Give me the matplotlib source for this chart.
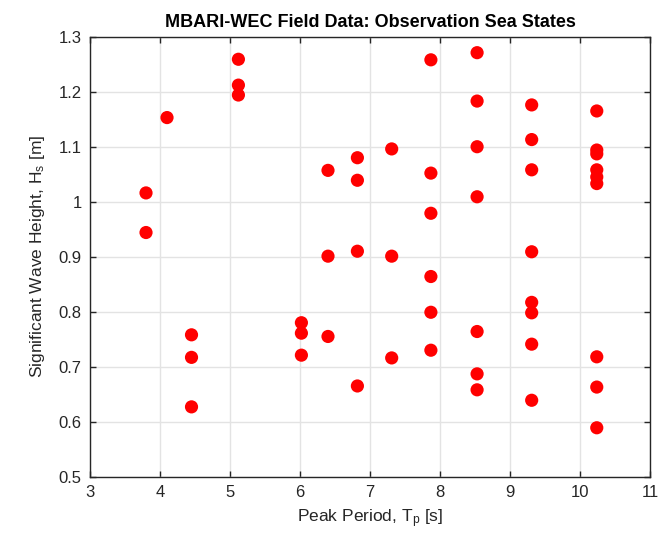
import matplotlib
matplotlib.use("Agg")
import matplotlib.pyplot as plt

plt.rcParams['font.family'] = ['Liberation Sans', 'DejaVu Sans']
plt.rcParams['mathtext.fontset'] = 'custom'
plt.rcParams['mathtext.rm'] = 'Liberation Sans'
plt.rcParams['mathtext.it'] = 'Liberation Sans'

# Peak period (s) and significant wave height (m) for each observation
tp = [3.80, 3.80,
      4.10,
      4.45, 4.45, 4.45,
      5.12, 5.12, 5.12,
      6.02, 6.02, 6.02,
      6.40, 6.40, 6.40,
      6.82, 6.82, 6.82, 6.82,
      7.31, 7.31, 7.31,
      7.87, 7.87, 7.87, 7.87, 7.87, 7.87,
      8.53, 8.53, 8.53, 8.53, 8.53, 8.53, 8.53,
      9.31, 9.31, 9.31, 9.31, 9.31, 9.31, 9.31, 9.31,
      10.24, 10.24, 10.24, 10.24, 10.24, 10.24, 10.24, 10.24, 10.24]
hs = [1.016, 0.944,
      1.153,
      0.758, 0.717, 0.627,
      1.259, 1.212, 1.194,
      0.780, 0.761, 0.721,
      1.057, 0.901, 0.755,
      1.080, 1.039, 0.910, 0.665,
      1.096, 0.901, 0.716,
      1.258, 1.052, 0.979, 0.864, 0.799, 0.730,
      1.271, 1.183, 1.100, 1.009, 0.764, 0.687, 0.658,
      1.176, 1.113, 1.058, 0.909, 0.817, 0.798, 0.741, 0.639,
      1.165, 1.094, 1.087, 1.058, 1.045, 1.033, 0.718, 0.663, 0.589]

x_ticks = [3, 4, 5, 6, 7, 8, 9, 10, 11]
y_ticks = [0.5, 0.6, 0.7, 0.8, 0.9, 1.0, 1.1, 1.2, 1.3]
y_tick_labels = ['0.5', '0.6', '0.7', '0.8', '0.9', '1', '1.1', '1.2', '1.3']

fig = plt.figure(figsize=(6.59, 5.33), dpi=100)
ax = fig.add_axes([0.1366, 0.1056, 0.8497, 0.8255])

ax.scatter(tp, hs, s=90, color='#ff0000', edgecolors='none', zorder=3)

ax.set_xlim(3, 11)
ax.set_ylim(0.5, 1.3)
ax.set_xticks(x_ticks)
ax.set_yticks(y_ticks)
ax.set_yticklabels(y_tick_labels)
ax.grid(True, color='#e3e3e3', linewidth=1.0, zorder=0)
ax.set_axisbelow(True)

for sp in ax.spines.values():
    sp.set_color('#262626')
    sp.set_linewidth(1.0)
ax.tick_params(direction='in', length=4, width=1.0, colors='#262626',
               labelcolor='#262626', labelsize=12, top=True, right=True, pad=6)

ax.set_xlabel(r'Peak Period, T$_\mathregular{p}$ [s]', fontsize=12.5, color='#262626', labelpad=5)
ax.set_ylabel(r'Significant Wave Height, H$_\mathregular{s}$ [m]', fontsize=12.5, color='#262626', labelpad=8)
ax.set_title('MBARI-WEC Field Data: Observation Sea States', fontsize=13,
             fontweight='bold', color='black', pad=7)

fig.savefig('out.png', dpi=100)
